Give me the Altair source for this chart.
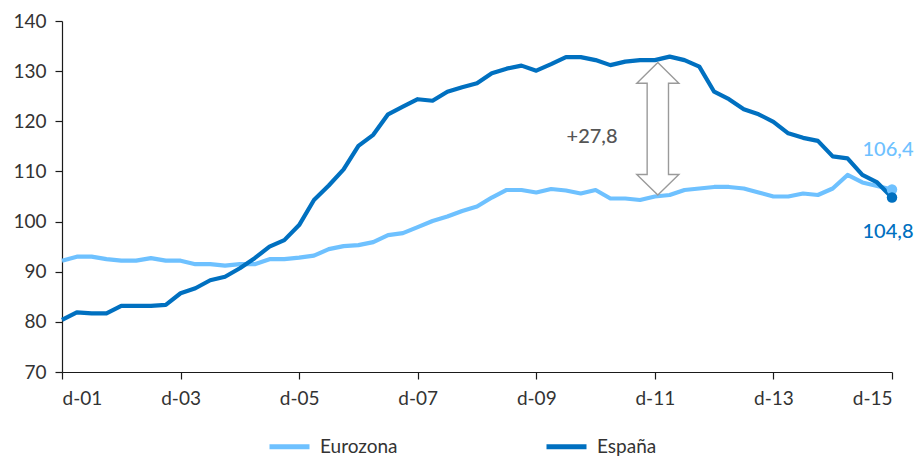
import altair as alt
import pandas as pd

# Quarterly periods: d-01 (Dec 2001) ... d-15 (Dec 2015)
periods = [2001 + q / 4 for q in range(57)]

espana = [80.4, 81.9, 81.7, 81.7, 83.2, 83.2, 83.2, 83.4, 85.7, 86.7,
          88.3, 89.0, 90.7, 92.7, 95.0, 96.3, 99.3, 104.3, 107.2, 110.4,
          115.1, 117.3, 121.4, 122.9, 124.4, 124.1, 125.9, 126.8, 127.6, 129.6,
          130.5, 131.1, 130.1, 131.4, 132.8, 132.8, 132.2, 131.2, 131.9, 132.2,
          132.2, 132.9, 132.2, 130.9, 125.9, 124.4, 122.4, 121.4, 119.9, 117.6,
          116.7, 116.1, 113.0, 112.6, 109.3, 107.8, 104.8]

eurozona = [92.2, 93.0, 93.0, 92.5, 92.2, 92.2, 92.7, 92.2, 92.2, 91.5,
            91.5, 91.2, 91.5, 91.5, 92.5, 92.5, 92.8, 93.2, 94.5, 95.1,
            95.3, 95.9, 97.3, 97.7, 98.9, 100.1, 101.0, 102.1, 103.0, 104.8,
            106.3, 106.3, 105.8, 106.5, 106.2, 105.6, 106.3, 104.6, 104.6, 104.3,
            105.0, 105.3, 106.3, 106.6, 106.9, 106.9, 106.6, 105.8, 105.0, 105.0,
            105.6, 105.3, 106.6, 109.3, 107.8, 107.1, 106.4]

series_names = ["Eurozona", "España"]
series_colors = ["#6EC1FF", "#0070C0"]

x_tick_values = [2001, 2003, 2005, 2007, 2009, 2011, 2013, 2015]
x_tick_labels = ["d-01", "d-03", "d-05", "d-07", "d-09", "d-11", "d-13", "d-15"]
y_tick_values = [70, 80, 90, 100, 110, 120, 130, 140]

# annotation: gap arrow at d-11
gap_label = "+27,8"
arrow_x = 2011.05
arrow_top = 131.7
arrow_bottom = 105.3
arrow_head_len = 4.1
shaft_half = 0.18
head_half = 0.355

font = "Lato"

rows = []
for name, vals in zip(series_names, [eurozona, espana]):
    for p, v in zip(periods, vals):
        rows.append({"t": p, "v": v, "serie": name})
df = pd.DataFrame(rows)

last = pd.DataFrame({
    "t": [periods[-1], periods[-1]],
    "v": [eurozona[-1], espana[-1]],
    "serie": series_names,
    "label": ["106,4", "104,8"],
    "ly": [eurozona[-1] + 7.8, espana[-1] - 6.8],
})

label_expr = "[" + ",".join(f"'{l}'" for l in x_tick_labels) + "][(datum.value-2001)/2]"

x_scale = alt.Scale(domain=[2001, 2015], nice=False, zero=False)
y_scale = alt.Scale(domain=[70, 140], nice=False, zero=False)
color_scale = alt.Scale(domain=series_names, range=series_colors)

x_enc = alt.X("t:Q", scale=x_scale,
              axis=alt.Axis(values=x_tick_values, labelExpr=label_expr, title=None,
                            grid=False, tickSize=7, labelPadding=10))
y_enc = alt.Y("v:Q", scale=y_scale,
              axis=alt.Axis(values=y_tick_values, title=None, grid=False,
                            tickSize=7, labelPadding=9))

lines = alt.Chart(df).mark_line(strokeWidth=4.2, strokeJoin="round").encode(
    x=x_enc,
    y=y_enc,
    color=alt.Color("serie:N", scale=color_scale, sort=series_names,
                    legend=alt.Legend(title=None, orient="none", direction="horizontal",
                                      legendX=205, legendY=403,
                                      symbolType="stroke", symbolSize=1600,
                                      symbolStrokeWidth=5, labelFontSize=19,
                                      labelFont=font, labelColor="#333333",
                                      labelOffset=8, columnPadding=138)),
)

points = alt.Chart(last).mark_point(filled=True, size=110, opacity=1).encode(
    x="t:Q", y="v:Q",
    color=alt.Color("serie:N", scale=color_scale, legend=None),
)

end_labels = alt.Chart(last).mark_text(fontSize=20, font=font, align="center",
                                       baseline="middle", dx=-4, fontWeight=500).encode(
    x="t:Q", y="ly:Q", text="label:N",
    color=alt.Color("serie:N", scale=color_scale, legend=None),
)

# hollow double-headed arrow
ax = [arrow_x, arrow_x + head_half, arrow_x + shaft_half, arrow_x + shaft_half,
      arrow_x + head_half, arrow_x, arrow_x - head_half, arrow_x - shaft_half,
      arrow_x - shaft_half, arrow_x - head_half, arrow_x]
ay = [arrow_top, arrow_top - arrow_head_len, arrow_top - arrow_head_len,
      arrow_bottom + arrow_head_len, arrow_bottom + arrow_head_len, arrow_bottom,
      arrow_bottom + arrow_head_len, arrow_bottom + arrow_head_len,
      arrow_top - arrow_head_len, arrow_top - arrow_head_len, arrow_top]
arrow_df = pd.DataFrame({"t": ax, "v": ay, "o": list(range(len(ax)))})
arrow = alt.Chart(arrow_df).mark_line(color="#9A9A9A", strokeWidth=1.4).encode(
    x="t:Q", y="v:Q", order="o:Q")

gap_df = pd.DataFrame({"t": [2009.94], "v": [116.8], "label": [gap_label]})
gap_text = alt.Chart(gap_df).mark_text(fontSize=20, font=font, color="#555555",
                                       fontWeight=500).encode(
    x="t:Q", y="v:Q", text="label:N")

chart = alt.layer(lines, arrow, gap_text, points, end_labels).properties(
    width=830, height=351,
    autosize=alt.AutoSizeParams(type="none"),
    padding={"left": 62, "top": 21, "right": 23, "bottom": 84},
).configure_view(stroke=None).configure_axis(
    labelFont=font, labelFontSize=19, labelColor="#333333",
    domainColor="#1a1a1a", tickColor="#1a1a1a", domainWidth=1.2, tickWidth=1.2,
)

chart.save("out.html", embed_options={"renderer": "svg", "actions": False})
